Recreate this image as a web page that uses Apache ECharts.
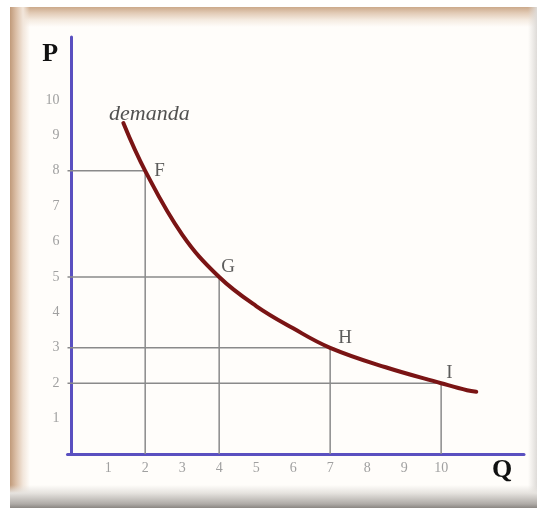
<!DOCTYPE html>
<html>
<head>
<meta charset="utf-8">
<script src="https://cdn.jsdelivr.net/npm/echarts@6/dist/echarts.min.js"></script>
<style>
    html, body { margin: 0; padding: 0; background: #fff; }
    #frame {
        position: absolute; left: 10px; top: 7px; width: 527px; height: 501px;
        background:
            linear-gradient(to bottom, rgba(255,255,255,0) 0, rgba(255,255,255,0) 478px, #e6e3df 486px, #aeaaa6 497px, #8a8682 501px),
            linear-gradient(to right, #c09a7a 0, #dbbfa7 6px, #f2e6db 13px, rgba(255,255,255,0) 20px),
            linear-gradient(to left, #dedbd8 0, rgba(255,255,255,0) 9px),
            linear-gradient(to bottom, #cba98b 0, #e2cbb6 6px, #f5ebe1 13px, #fffdfa 20px);
    }
    #chart { position: absolute; left: 0; top: 0; width: 537px; height: 508px; }
</style>
</head>
<body>
<div id="frame"></div>
<div id="chart"></div>
<script>
    // demand curve
    var curveQ = [1.41, 2, 3, 4, 5, 6, 7, 8.5, 10, 10.7, 10.95];
    var curveP = [9.35, 8, 6.2, 5, 4.18, 3.55, 3, 2.45, 2, 1.8, 1.76];

    // marked points
    var pointNames = ["F", "G", "H", "I"];
    var pointQ = [2, 4, 7, 10];
    var pointP = [8, 5, 3, 2];

    var qTicks = [1, 2, 3, 4, 5, 6, 7, 8, 9, 10];
    var pTicks = [1, 2, 3, 4, 5, 6, 7, 8, 9, 10];

    var curveName = "demanda";

    // label nudges (style only)
    var labelNudge = [[9, 0], [2, -10], [8, -10], [5, -10]];

    var serif = "'Liberation Serif', 'DejaVu Serif', serif";
    var myChart = echarts.init(document.getElementById("chart"));

    var dropSeries = pointNames.map(function (n, i) {
        return {
            type: "line",
            silent: true,
            symbol: "none",
            z: 1,
            lineStyle: { color: "#8a8a8a", width: 1.5 },
            data: [[-0.1, pointP[i]], [pointQ[i], pointP[i]], [pointQ[i], 0]]
        };
    });

    var option = {
        animation: false,
        grid: { left: 67.5, right: 13, top: 37, bottom: 54 },
        xAxis: {
            type: "value",
            min: -0.1,
            max: 12.24,
            name: "Q",
            nameLocation: "end",
            nameGap: -22,
            nameTextStyle: {
                fontFamily: serif, fontWeight: "bold", fontSize: 26, color: "#111",
                align: "center", verticalAlign: "top", padding: [3, 0, 0, 0]
            },
            axisLine: { lineStyle: { color: "#5a50c0", width: 3 } },
            axisTick: { show: false },
            splitLine: { show: false },
            axisLabel: {
                customValues: qTicks,
                fontFamily: serif, fontSize: 14, color: "#a0a0a0", margin: 7
            }
        },
        yAxis: {
            type: "value",
            min: 0,
            max: 11.78,
            name: "P",
            nameLocation: "end",
            nameGap: -4,
            nameTextStyle: {
                fontFamily: serif, fontWeight: "bold", fontSize: 26, color: "#111",
                align: "right", verticalAlign: "top", padding: [0, 13, 0, 0]
            },
            axisLine: { show: true, lineStyle: { color: "#5a50c0", width: 3 } },
            axisTick: { show: false },
            splitLine: { show: false },
            axisLabel: {
                customValues: pTicks,
                fontFamily: serif, fontSize: 14, color: "#a0a0a0", margin: 8,
                padding: [0, 0, 5, 0]
            }
        },
        series: dropSeries.concat([
            {
                type: "line",
                name: curveName,
                smooth: 0.4,
                symbol: "none",
                z: 3,
                lineStyle: { color: "#7a1414", width: 4, cap: "round" },
                data: curveQ.map(function (q, i) { return [q, curveP[i]]; })
            },
            {
                type: "scatter",
                symbolSize: 0,
                z: 4,
                data: [[curveQ[0], curveP[0]]],
                label: {
                    show: true,
                    formatter: curveName,
                    position: "top",
                    distance: 0,
                    offset: [26, 2],
                    fontFamily: serif, fontStyle: "italic", fontSize: 22, color: "#262626"
                }
            },
            {
                type: "scatter",
                symbolSize: 0,
                z: 4,
                data: pointNames.map(function (n, i) {
                    return {
                        name: n,
                        value: [pointQ[i], pointP[i]],
                        label: { offset: labelNudge[i] }
                    };
                }),
                label: {
                    show: true,
                    formatter: "{b}",
                    position: "right",
                    distance: 0,
                    fontFamily: serif, fontSize: 19, color: "#333"
                }
            }
        ])
    };
    myChart.setOption(option);
</script>
</body>
</html>
